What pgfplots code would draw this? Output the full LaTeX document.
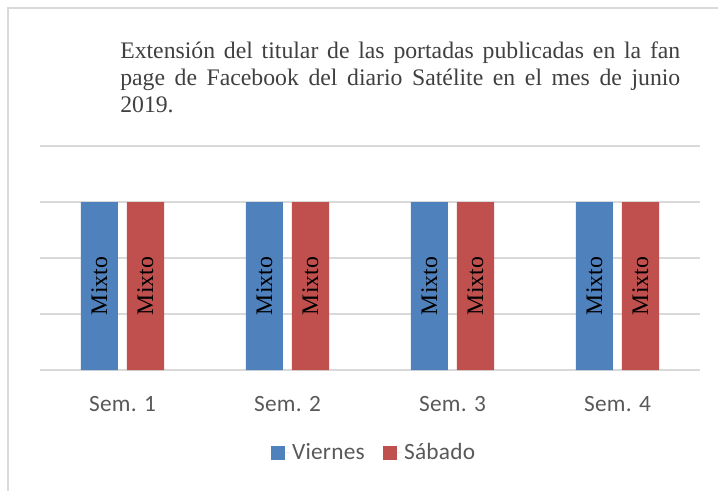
\documentclass[border=0pt]{standalone}
\usepackage{fontspec}
\setmainfont{Liberation Serif}
\newfontfamily\calib{Carlito}[LetterSpace=1.0]
\usepackage{pgfplots}
\pgfplotsset{compat=1.18}
\definecolor{cblue}{HTML}{4F81BD}
\definecolor{cred}{HTML}{C0504D}
\definecolor{cgrid}{HTML}{D9D9D9}
\definecolor{ctext}{HTML}{595959}
\definecolor{ctitle}{HTML}{404040}
\begin{document}
\begin{tikzpicture}
\useasboundingbox (0,0) rectangle (538.5pt,367.5pt);
\draw[cgrid, line width=0.9pt] (6pt,-10pt) -- (6pt,361.5pt) -- (560pt,361.5pt);
\node[anchor=base west, inner sep=0pt, text=ctitle] at (90pt,323.25pt) {\parbox[t]{420pt}{\fontsize{17.8pt}{20.25pt}\selectfont Extensión del titular de las portadas publicadas en la fan\linebreak page de Facebook del diario Satélite en el mes de junio\linebreak 2019.}};
\begin{axis}[
 at={(30pt,90pt)}, anchor=south west,
 scale only axis, width=495pt, height=168pt,
 xmin=-0.5, xmax=3.5, ymin=0, ymax=4,
 ybar=6.75pt, bar width=27.75pt,
 xtick={0,1,2,3}, xticklabels={Sem. 1, Sem. 2, Sem. 3, Sem. 4},
 ytick={0,1,2,3,4}, yticklabels={},
 ymajorgrids, grid style={cgrid, line width=1pt},
 axis line style={draw=none}, tick style={draw=none},
 xticklabel style={font=\calib\fontsize{17.5pt}{20pt}\selectfont, text=ctext, anchor=base, yshift=-27pt},
 legend style={draw=none, fill=none, at={(0.507,-0.37)}, anchor=center, legend columns=2,
   font=\calib\fontsize{17.5pt}{20pt}\selectfont, text=ctext,
   /tikz/every even column/.append style={column sep=12pt}},
 legend image code/.code={\fill[#1] (0pt,-5.25pt) rectangle (10.5pt,5.25pt); \path (0pt,0pt) -- (13.5pt,0pt);},
 nodes near coords={Mixto},
 every node near coord/.append style={font=\fontsize{17.8pt}{20pt}\selectfont, text=black, anchor=center, yshift=-63pt, rotate=90},
]
\addplot[fill=cblue, draw=none] coordinates {(0,3) (1,3) (2,3) (3,3)};
\addplot[fill=cred, draw=none] coordinates {(0,3) (1,3) (2,3) (3,3)};
\legend{Viernes, Sábado}
\end{axis}
\end{tikzpicture}
\end{document}
